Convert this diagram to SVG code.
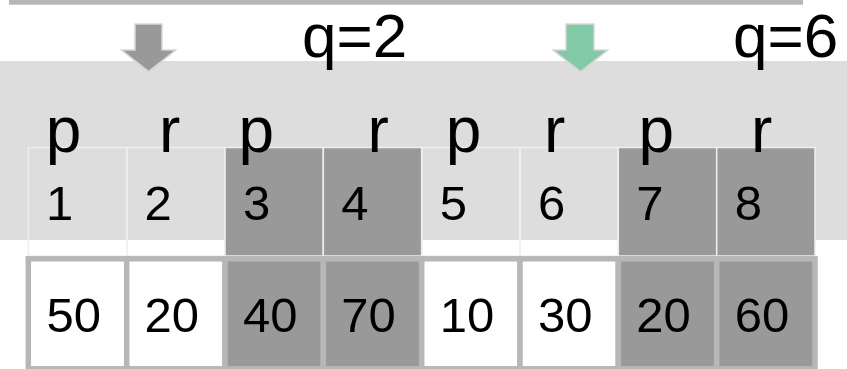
<svg xmlns="http://www.w3.org/2000/svg" width="847" height="369" viewBox="0 0 847 369">
<style>
text{font-family:"Liberation Sans",Arial,sans-serif;fill:#000}
.lbl{font-size:64px}
.q{font-size:62px}
.num{font-size:49px}
.idx{stroke:#efefef;stroke-width:1.5}
.val{stroke:#b7b7b7;stroke-width:5.5}
.lt{fill:none}
.dk{fill:#999999}
.wh{fill:#ffffff}
.arrow{stroke:#d6d6d6;stroke-width:1.5}
</style>
<rect id="topbar" x="9" y="0" width="794" height="4.7" fill="#b7b7b7"/>
<rect id="band" x="0" y="61" width="847" height="179" fill="#dddddd"/>
<g id="arrow-gray"><polygon class="arrow" fill="#999999" points="135,24 162,24 162,50 175.7,50 148.5,71.7 121.7,50 135,50"/></g>
<g id="arrow-green"><polygon class="arrow" fill="#82c9a5" points="566,24 594,24 594,50 607.7,50 580.5,71.7 553,50 566,50"/></g>
<g id="arrow-green-bottom"><rect class="arrow" fill="#82c9a5" x="697" y="366" width="27" height="20"/></g>
<g id="q-labels">
<text class="q" x="302" y="57">q=2</text>
<text class="q" x="733" y="57">q=6</text>
</g>
<g id="index-row">
<g id="idx1"><rect class="idx lt" x="28.3" y="147.5" width="98.4" height="108.5"/><text class="num" x="46" y="220">1</text></g>
<g id="idx2"><rect class="idx lt" x="126.7" y="147.5" width="98.3" height="108.5"/><text class="num" x="144.5" y="220">2</text></g>
<g id="idx3"><rect class="idx dk" x="225" y="147.5" width="98.3" height="108.5"/><text class="num" x="243" y="220">3</text></g>
<g id="idx4"><rect class="idx dk" x="323.3" y="147.5" width="98.4" height="108.5"/><text class="num" x="341.3" y="220">4</text></g>
<g id="idx5"><rect class="idx lt" x="421.7" y="147.5" width="98.3" height="108.5"/><text class="num" x="439.7" y="220">5</text></g>
<g id="idx6"><rect class="idx lt" x="520" y="147.5" width="98.3" height="108.5"/><text class="num" x="538" y="220">6</text></g>
<g id="idx7"><rect class="idx dk" x="618.3" y="147.5" width="98.4" height="108.5"/><text class="num" x="636.3" y="220">7</text></g>
<g id="idx8"><rect class="idx dk" x="716.7" y="147.5" width="98.3" height="108.5"/><text class="num" x="734.7" y="220">8</text></g>
</g>
<g id="pointer-labels">
<text class="lbl" x="45.8" y="151.7">p</text>
<text class="lbl" x="159" y="151.7">r</text>
<text class="lbl" x="238.5" y="151.7">p</text>
<text class="lbl" x="367.5" y="151.7">r</text>
<text class="lbl" x="445.8" y="151.7">p</text>
<text class="lbl" x="544" y="151.7">r</text>
<text class="lbl" x="638.5" y="151.7">p</text>
<text class="lbl" x="751" y="151.7">r</text>
</g>
<g id="value-row">
<g id="val1"><rect class="val wh" x="28.3" y="258.8" width="98.4" height="110"/><text class="num" x="46.4" y="331.7">50</text></g>
<g id="val2"><rect class="val wh" x="126.7" y="258.8" width="98.3" height="110"/><text class="num" x="144.5" y="331.7">20</text></g>
<g id="val3"><rect class="val dk" x="225" y="258.8" width="98.3" height="110"/><text class="num" x="243" y="331.7">40</text></g>
<g id="val4"><rect class="val dk" x="323.3" y="258.8" width="98.4" height="110"/><text class="num" x="341.3" y="331.7">70</text></g>
<g id="val5"><rect class="val wh" x="421.7" y="258.8" width="98.3" height="110"/><text class="num" x="439.7" y="331.7">10</text></g>
<g id="val6"><rect class="val wh" x="520" y="258.8" width="98.3" height="110"/><text class="num" x="538" y="331.7">30</text></g>
<g id="val7"><rect class="val dk" x="618.3" y="258.8" width="98.4" height="110"/><text class="num" x="636.3" y="331.7">20</text></g>
<g id="val8"><rect class="val dk" x="716.7" y="258.8" width="98.3" height="110"/><text class="num" x="734.7" y="331.7">60</text></g>
</g>
</svg>
